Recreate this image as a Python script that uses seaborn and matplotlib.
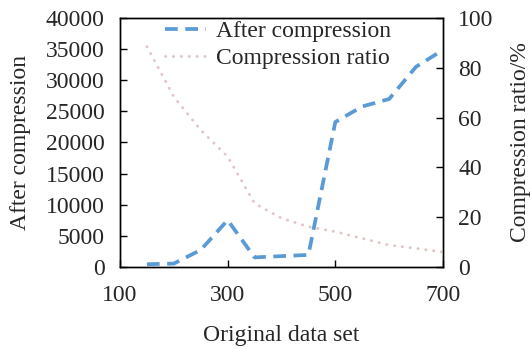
import matplotlib
matplotlib.use("Agg")
import matplotlib.pyplot as plt
import seaborn as sns
import pandas as pd

x_vals = [150, 200, 250, 300, 350, 400, 450, 500, 550, 600, 650, 700]
after_compression = [400, 500, 2700, 7500, 1500, 1700, 1900, 23300, 25800, 27000, 32200, 34900]
compression_ratio = [88.6, 68.4, 55.0, 44.3, 25.5, 19.5, 16.1, 14.1, 11.4, 8.7, 7.4, 5.9]

df = pd.DataFrame({"x": x_vals, "after": after_compression, "ratio": compression_ratio})

sns.set_style("ticks")
plt.rcParams["font.family"] = ["Liberation Serif", "DejaVu Serif"]
plt.rcParams["font.size"] = 17
plt.rcParams["xtick.direction"] = "in"
plt.rcParams["ytick.direction"] = "in"

fig = plt.figure(figsize=(5.3, 3.49), dpi=100)
ax = fig.add_axes([0.2264, 0.2358, 0.6094, 0.7118])
ax2 = ax.twinx()

sns.lineplot(data=df, x="x", y="after", ax=ax, color="#5b9bd5", linewidth=2.7,
             linestyle=(0, (3.4, 2.0)), label="After compression", legend=False)
sns.lineplot(data=df, x="x", y="ratio", ax=ax2, color="#e3c6c6", linewidth=2.1,
             linestyle=(0, (0.1, 2.6)), dash_capstyle="round",
             label="Compression ratio", legend=False)

ax.set_xlim(100, 700)
ax.set_ylim(0, 40000)
ax.set_xticks([100, 300, 500, 700])
ax.set_yticks(range(0, 40001, 5000))
ax2.set_ylim(0, 100)
ax2.set_yticks(range(0, 101, 20))

ax.set_xlabel("Original data set", fontsize=17, labelpad=14)
ax.set_ylabel("After compression", fontsize=17, labelpad=11)
ax2.set_ylabel("Compression ratio/%", fontsize=17, labelpad=12)

for a in (ax, ax2):
    a.tick_params(labelsize=17, length=5, width=1, color="black", pad=11)
    for s in a.spines.values():
        s.set_linewidth(1.0)
        s.set_color("black")
ax.tick_params(axis="x", pad=13)

h1, l1 = ax.get_legend_handles_labels()
h2, l2 = ax2.get_legend_handles_labels()
ax2.legend(h1 + h2, l1 + l2, loc="upper center", frameon=False, fontsize=17,
           handlelength=1.7, borderaxespad=0.0, labelspacing=0.25, handletextpad=0.45,
           bbox_to_anchor=(0.49, 1.03))

fig.savefig("out.png", dpi=100)
